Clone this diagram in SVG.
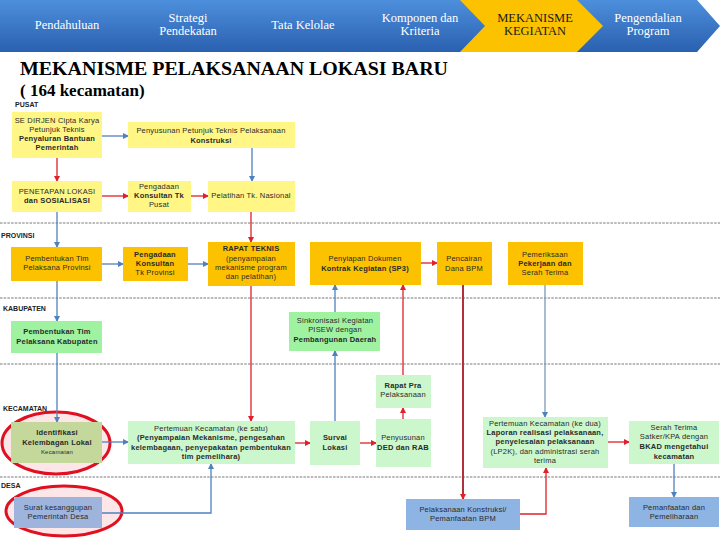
<svg xmlns="http://www.w3.org/2000/svg" width="720" height="540" viewBox="0 0 720 540">
<style>
.nav{font-family:"Liberation Serif","DejaVu Serif",serif;font-size:12.5px;fill:#fff;text-anchor:middle}
.navA{fill:#1a1a1a}
.ttl{font-family:"Liberation Serif","DejaVu Serif",serif;font-weight:bold;fill:#000}
.t{font-family:"Liberation Sans",Arial,sans-serif;font-size:7.5px;fill:#2a2a2a;text-anchor:middle;letter-spacing:0.2px}
.b{font-weight:bold}
.lv{font-family:"Liberation Sans",Arial,sans-serif;font-size:7px;font-weight:bold;fill:#222}
.ly{fill:#fff685}
.gd{fill:#fcc200}
.gr{fill:#9ff29f}
.lg{fill:#ccf7cc}
.ol{fill:#c4d89c}
.bl{fill:#8db4e3}
.sb{fill:#9eb4dc}
.dash{stroke:#555;stroke-width:0.8;stroke-dasharray:2.5,1.2;fill:none}
.cb{stroke:#4f81bd;stroke-width:1.3;fill:none;marker-end:url(#ab)}
.cr{stroke:#e0202a;stroke-width:1.3;fill:none;marker-end:url(#ar)}
.cd{stroke:#b0303c;stroke-width:2;fill:none;marker-end:url(#ar)}
.cg{stroke:#6f8fb8;stroke-width:1.2;fill:none;marker-end:url(#ab)}
.ring{fill:#fce6e8;stroke:#e01020;stroke-width:3}
</style>
<defs>
<linearGradient id="nb" x1="0" y1="0" x2="0" y2="1">
<stop offset="0" stop-color="#4d8fdc"/>
<stop offset="1" stop-color="#2a60b0"/>
</linearGradient>
<marker id="ab" markerWidth="6" markerHeight="6" refX="5" refY="3" orient="auto" markerUnits="userSpaceOnUse">
<path d="M0,0 L6,3 L0,6 z" fill="#4f81bd"/>
</marker>
<marker id="ar" markerWidth="6" markerHeight="6" refX="5" refY="3" orient="auto" markerUnits="userSpaceOnUse">
<path d="M0,0 L6,3 L0,6 z" fill="#e0202a"/>
</marker>
</defs>
<rect width="720" height="540" fill="#fff"/>
<g id="navbar">
<polygon points="0,0 697,0 720,26 697,52 0,52" fill="url(#nb)"/>
<polygon points="460,0 577,0 603,26 577,52 460,52 485,26" fill="#fcc200"/>
<text class="nav" x="67" y="29">Pendahuluan</text>
<text class="nav" x="188" y="22">Strategi<tspan x="188" y="35">Pendekatan</tspan></text>
<text class="nav" x="303" y="29">Tata Kelolae</text>
<text class="nav" x="420" y="22">Komponen dan<tspan x="420" y="35">Kriteria</tspan></text>
<text class="nav navA" x="535" y="22">MEKANISME<tspan x="535" y="35">KEGIATAN</tspan></text>
<text class="nav" x="648" y="22">Pengendalian<tspan x="648" y="35">Program</tspan></text>
</g>
<g id="title">
<text class="ttl" x="20" y="75" font-size="19" textLength="428" lengthAdjust="spacingAndGlyphs">MEKANISME PELAKSANAAN LOKASI BARU</text>
<text class="ttl" x="20" y="96" font-size="17">( 164 kecamatan)</text>
</g>
<g id="levels">
<line class="dash" x1="0" y1="223" x2="720" y2="223"/>
<line class="dash" x1="0" y1="298" x2="720" y2="298"/>
<line class="dash" x1="0" y1="364" x2="720" y2="364"/>
<line class="dash" x1="0" y1="477" x2="720" y2="477"/>
<text class="lv" x="15" y="107">PUSAT</text>
<text class="lv" x="1" y="238">PROVINSI</text>
<text class="lv" x="3" y="311">KABUPATEN</text>
<text class="lv" x="3" y="411">KECAMATAN</text>
<text class="lv" x="1" y="488">DESA</text>
</g>
<g id="highlights">
<ellipse class="ring" cx="56" cy="443" rx="54" ry="31"/>
<ellipse class="ring" cx="64" cy="511" rx="58" ry="25"/>
</g>
<g id="connectors">
<path class="cb" d="M102,136 H128"/>
<path class="cb" d="M252,148 V181"/>
<path class="cb" d="M57,212 V247"/>
<path class="cb" d="M102,264 H123"/>
<path class="cb" d="M188,264 H208"/>
<path class="cb" d="M57,281 V321"/>
<path class="cb" d="M57,353 V422"/>
<path class="cb" d="M102,442 H128"/>
<path class="cb" d="M102,513 H211 V464"/>
<path class="cb" d="M335,312 V285"/>
<path class="cb" d="M335,421 V351"/>
<path class="cg" d="M545,285 V417"/>
<path class="cb" d="M674,464 V497"/>
<path class="cr" d="M57,158 V181"/>
<path class="cr" d="M102,196 H128"/>
<path class="cr" d="M191,196 H208"/>
<path class="cr" d="M251,212 V242"/>
<path class="cr" d="M251,286 V421"/>
<path class="cr" d="M421,263 H437"/>
<path class="cr" d="M295,443 H310"/>
<path class="cr" d="M360,443 H376"/>
<path class="cr" d="M403,419 V408"/>
<path class="cr" d="M403,375 V285"/>
<path class="cr" d="M520,514 H546 V468"/>
<path class="cr" d="M608,442 H629"/>
<path class="cd" d="M463,285 V499"/>
</g>
<g id="n-sedirjen"><rect class="ly" x="12" y="112" width="90" height="46"/>
<text class="t" x="57" y="123">SE DIRJEN Cipta Karya<tspan x="57" y="132">Petunjuk Teknis</tspan><tspan x="57" y="141" class="b">Penyaluran Bantuan</tspan><tspan x="57" y="150" class="b">Pemerintah</tspan></text></g>
<g id="n-penyusunan-juknis"><rect class="ly" x="128" y="122" width="167" height="26"/>
<text class="t" x="211" y="133">Penyusunan Petunjuk Teknis Pelaksanaan<tspan x="211" y="143" class="b">Konstruksi</tspan></text></g>
<g id="n-penetapan"><rect class="ly" x="12" y="181" width="90" height="31"/>
<text class="t" x="57" y="194">PENETAPAN LOKASI<tspan x="57" y="203" class="b">dan SOSIALISASI</tspan></text></g>
<g id="n-konsultan-pusat"><rect class="ly" x="128" y="181" width="63" height="31"/>
<text class="t" x="159" y="189">Pengadaan<tspan x="159" y="198" class="b">Konsultan Tk</tspan><tspan x="159" y="207">Pusat</tspan></text></g>
<g id="n-pelatihan"><rect class="ly" x="208" y="181" width="87" height="31"/>
<text class="t" x="251" y="198">Pelatihan Tk. Nasional</text></g>
<g id="n-tim-provinsi"><rect class="gd" x="11" y="247" width="91" height="34"/>
<text class="t" x="57" y="261">Pembentukan Tim<tspan x="57" y="270">Pelaksana Provinsi</tspan></text></g>
<g id="n-konsultan-prov"><rect class="gd" x="123" y="247" width="65" height="34"/>
<text class="t b" x="155" y="257">Pengadaan<tspan x="155" y="266">Konsultan</tspan><tspan x="155" y="275" font-weight="normal">Tk Provinsi</tspan></text></g>
<g id="n-rapat-teknis"><rect class="gd" x="208" y="242" width="87" height="44"/>
<text class="t" x="251" y="251"><tspan class="b">RAPAT TEKNIS</tspan><tspan x="251" y="261">(penyampaian</tspan><tspan x="251" y="270">mekanisme program</tspan><tspan x="251" y="279">dan pelatihan)</tspan></text></g>
<g id="n-penyiapan"><rect class="gd" x="310" y="242" width="111" height="43"/>
<text class="t" x="365" y="261">Penyiapan Dokumen<tspan x="365" y="271" class="b">Kontrak Kegiatan (SP3)</tspan></text></g>
<g id="n-pencairan"><rect class="gd" x="437" y="242" width="55" height="43"/>
<text class="t" x="464" y="261">Pencairan<tspan x="464" y="271">Dana BPM</tspan></text></g>
<g id="n-pemeriksaan"><rect class="gd" x="508" y="242" width="75" height="43"/>
<text class="t" x="545" y="257">Pemeriksaan<tspan x="545" y="266" class="b">Pekerjaan dan</tspan><tspan x="545" y="275">Serah Terima</tspan></text></g>
<g id="n-tim-kabupaten"><rect class="gr" x="11" y="321" width="91" height="32"/>
<text class="t b" x="57" y="334">Pembentukan Tim<tspan x="57" y="344">Pelaksana Kabupaten</tspan></text></g>
<g id="n-sinkronisasi"><rect class="gr" x="289" y="312" width="91" height="39"/>
<text class="t" x="335" y="323">Sinkronisasi Kegiatan<tspan x="335" y="332">PISEW dengan</tspan><tspan x="335" y="342" class="b">Pembangunan Daerah</tspan></text></g>
<g id="n-rapat-pra"><rect class="lg" x="376" y="375" width="55" height="33"/>
<text class="t" x="403" y="388"><tspan class="b">Rapat Pra</tspan><tspan x="403" y="397">Pelaksanaan</tspan></text></g>
<g id="n-identifikasi"><rect class="ol" x="11" y="422" width="91" height="41"/>
<text class="t b" x="57" y="435">Identifikasi<tspan x="57" y="445">Kelembagan Lokal</tspan><tspan x="57" y="454" font-size="6" font-weight="normal">Kecamatan</tspan></text></g>
<g id="n-pertemuan1"><rect class="lg" x="128" y="421" width="167" height="43"/>
<text class="t" x="211" y="431">Pertemuan Kecamatan (ke satu)<tspan x="211" y="440" class="b">(Penyampaian Mekanisme, pengesahan</tspan><tspan x="211" y="450" class="b">kelembagaan, penyepakatan pembentukan</tspan><tspan x="211" y="459" class="b">tim pemelihara)</tspan></text></g>
<g id="n-survai"><rect class="lg" x="310" y="421" width="50" height="44"/>
<text class="t b" x="335" y="440">Survai<tspan x="335" y="450">Lokasi</tspan></text></g>
<g id="n-penyusunan-ded"><rect class="lg" x="376" y="419" width="55" height="48"/>
<text class="t" x="403" y="440">Penyusunan<tspan x="403" y="450" class="b">DED dan RAB</tspan></text></g>
<g id="n-pertemuan2"><rect class="lg" x="483" y="417" width="125" height="51"/>
<text class="t" x="545" y="426">Pertemuan Kecamatan (ke dua)<tspan x="545" y="435" class="b">Laporan realisasi pelaksanaan,</tspan><tspan x="545" y="444" class="b">penyelesaian pelaksanaan</tspan><tspan x="545" y="454">(LP2K), dan administrasi serah</tspan><tspan x="545" y="463">terima</tspan></text></g>
<g id="n-serah-terima"><rect class="lg" x="629" y="421" width="90" height="43"/>
<text class="t" x="674" y="430">Serah Terima<tspan x="674" y="439">Satker/KPA dengan</tspan><tspan x="674" y="449" class="b">BKAD mengetahui</tspan><tspan x="674" y="459" class="b">kecamatan</tspan></text></g>
<g id="n-surat"><rect class="sb" x="14" y="497" width="88" height="31"/>
<text class="t" x="58" y="510">Surat kesanggupan<tspan x="58" y="519">Pemerintah Desa</tspan></text></g>
<g id="n-pelaksanaan"><rect class="bl" x="406" y="499" width="114" height="31"/>
<text class="t" x="463" y="512">Pelaksanaan Konstruksi/<tspan x="463" y="521">Pemanfaatan BPM</tspan></text></g>
<g id="n-pemanfaatan"><rect class="bl" x="629" y="497" width="90" height="30"/>
<text class="t" x="674" y="510">Pemanfaatan dan<tspan x="674" y="519">Pemeliharaan</tspan></text></g>
</svg>
